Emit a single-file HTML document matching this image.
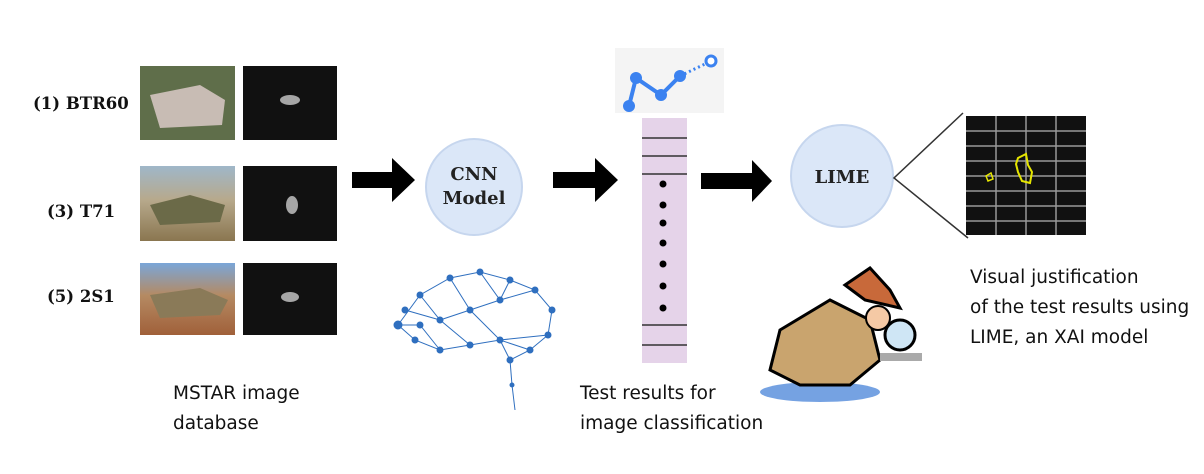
<!DOCTYPE html>
<html><head><style>
body{margin:0;background:#fff;width:1204px;height:474px;overflow:hidden;position:relative;font-family:"DejaVu Sans","Liberation Sans",sans-serif}
.a{position:absolute}
.lbl{font-family:"DejaVu Serif","Liberation Serif",serif;font-weight:bold;font-size:16.5px;color:#111}
.t{font-size:18.5px;color:#111;line-height:30px}
</style></head><body>
<div class="a lbl" style="left:33px;top:94px">(1) BTR60</div>
<div class="a lbl" style="left:47px;top:202px">(3) T71</div>
<div class="a lbl" style="left:47px;top:287px">(5) 2S1</div>
<svg class="a" style="left:0;top:0" width="1204" height="474">
<defs>
<linearGradient id="sk" x1="0" y1="0" x2="0" y2="1"><stop offset="0" stop-color="#9fb7c9"/><stop offset="0.45" stop-color="#b7a98c"/><stop offset="1" stop-color="#8a7650"/></linearGradient>
<linearGradient id="sk2" x1="0" y1="0" x2="0" y2="1"><stop offset="0" stop-color="#7aa6d8"/><stop offset="0.45" stop-color="#b58a62"/><stop offset="1" stop-color="#a0603a"/></linearGradient>
</defs>
<rect x="140" y="66" width="95" height="74" fill="#5f6e4a"/>
<path d="M150 95 L200 85 L225 100 L222 125 L160 128 Z" fill="#c8bcb4"/>
<rect x="140" y="166" width="95" height="75" fill="url(#sk)"/>
<path d="M150 205 L190 195 L225 205 L220 222 L160 225 Z" fill="#6b6a48"/>
<rect x="140" y="263" width="95" height="72" fill="url(#sk2)"/>
<path d="M150 295 L200 288 L228 300 L220 315 L160 318 Z" fill="#8a7a58"/>
<rect x="243" y="66" width="94" height="74" fill="#111"/><ellipse cx="290" cy="100" rx="10" ry="5" fill="#ccc" opacity=".8"/>
<rect x="243" y="166" width="94" height="75" fill="#111"/><ellipse cx="292" cy="205" rx="6" ry="9" fill="#ccc" opacity=".8"/>
<rect x="243" y="263" width="94" height="72" fill="#111"/><ellipse cx="290" cy="297" rx="9" ry="5" fill="#ccc" opacity=".8"/>
<g fill="#000">
<path d="M352 172 H392 V158 L415 180 L392 202 V188 H352Z"/>
<path d="M553 172 H595 V158 L618 180 L595 202 V188 H553Z"/>
<path d="M701 173 H752 V160 L772 181 L752 202 V189 H701Z"/>
</g>
<circle cx="474" cy="187" r="48" fill="#dbe7f8" stroke="#c6d6ee" stroke-width="2"/>
<text x="474" y="180" text-anchor="middle" font-family="DejaVu Serif,Liberation Serif,serif" font-weight="bold" font-size="18" fill="#222">CNN</text>
<text x="474" y="204" text-anchor="middle" font-family="DejaVu Serif,Liberation Serif,serif" font-weight="bold" font-size="18" fill="#222">Model</text>
<g stroke="#2f6fbf" stroke-width="1" fill="#2f6fbf">
<path fill="none" d="M398 325 L420 295 L450 278 L480 272 L510 280 L535 290 L552 310 L548 335 L530 350 L510 360 L512 385 L515 410 M398 325 L415 340 L440 350 L470 345 L500 340 L530 350 M420 295 L440 320 L470 310 L500 300 L535 290 M440 320 L470 345 M470 310 L500 340 L548 335 M450 278 L470 310 M480 272 L500 300 L510 280 M440 350 L420 325 L398 325 M500 340 L510 360 M405 310 L440 320"/>
<circle cx="398" cy="325" r="4"/><circle cx="420" cy="295" r="3"/><circle cx="450" cy="278" r="3"/><circle cx="480" cy="272" r="3"/><circle cx="510" cy="280" r="3"/><circle cx="535" cy="290" r="3"/><circle cx="552" cy="310" r="3"/><circle cx="548" cy="335" r="3"/><circle cx="530" cy="350" r="3"/><circle cx="510" cy="360" r="3"/><circle cx="512" cy="385" r="2"/><circle cx="415" cy="340" r="3"/><circle cx="440" cy="350" r="3"/><circle cx="470" cy="345" r="3"/><circle cx="500" cy="340" r="3"/><circle cx="440" cy="320" r="3"/><circle cx="470" cy="310" r="3"/><circle cx="500" cy="300" r="3"/><circle cx="405" cy="310" r="3"/><circle cx="420" cy="325" r="3"/>
</g>
<rect x="615" y="48" width="109" height="65" fill="#f4f4f4"/>
<polyline points="629,106 636,78 661,95 680,76" fill="none" stroke="#3b82f0" stroke-width="4"/>
<line x1="680" y1="76" x2="705" y2="64" stroke="#3b82f0" stroke-width="3" stroke-dasharray="2,3"/>
<g fill="#3b82f0"><circle cx="629" cy="106" r="6"/><circle cx="636" cy="78" r="6"/><circle cx="661" cy="95" r="6"/><circle cx="680" cy="76" r="6"/></g>
<circle cx="711" cy="61" r="5" fill="#fff" stroke="#3b82f0" stroke-width="3"/>
<rect x="642" y="118" width="45" height="245" fill="#e5d3e9"/>
<g stroke="#333" stroke-width="1.5"><line x1="642" y1="138" x2="687" y2="138"/><line x1="642" y1="156" x2="687" y2="156"/><line x1="642" y1="174" x2="687" y2="174"/><line x1="642" y1="325" x2="687" y2="325"/><line x1="642" y1="345" x2="687" y2="345"/></g>
<g fill="#000"><circle cx="663" cy="184" r="3.5"/><circle cx="663" cy="205" r="3.5"/><circle cx="663" cy="223" r="3.5"/><circle cx="663" cy="243" r="3.5"/><circle cx="663" cy="264" r="3.5"/><circle cx="663" cy="286" r="3.5"/><circle cx="663" cy="308" r="3.5"/></g>
<circle cx="842" cy="176" r="51" fill="#dbe7f8" stroke="#c6d6ee" stroke-width="2"/>
<text x="842" y="183" text-anchor="middle" font-family="DejaVu Serif,Liberation Serif,serif" font-weight="bold" font-size="18" fill="#222">LIME</text>
<polyline points="963,113 894,178 968,238" fill="none" stroke="#333" stroke-width="1.5"/>
<rect x="966" y="116" width="120" height="119" fill="#111"/>
<g stroke="#999" stroke-width="1.5">
<line x1="996" y1="116" x2="996" y2="235"/><line x1="1026" y1="116" x2="1026" y2="235"/><line x1="1056" y1="116" x2="1056" y2="235"/>
<line x1="966" y1="131" x2="1086" y2="131"/><line x1="966" y1="146" x2="1086" y2="146"/><line x1="966" y1="161" x2="1086" y2="161"/><line x1="966" y1="176" x2="1086" y2="176"/><line x1="966" y1="191" x2="1086" y2="191"/><line x1="966" y1="206" x2="1086" y2="206"/><line x1="966" y1="221" x2="1086" y2="221"/>
</g>
<path d="M1018 158 L1026 154 L1028 165 L1032 172 L1030 183 L1022 181 L1018 172 L1016 164Z" fill="none" stroke="#e6e600" stroke-width="2"/>
<path d="M986 176 L991 173 L993 179 L988 181Z" fill="none" stroke="#e6e600" stroke-width="1.5"/>
<ellipse cx="820" cy="392" rx="60" ry="10" fill="#3a7bd5" opacity=".7"/>
<path d="M780 330 L830 300 L870 320 L880 360 L850 385 L800 385 L770 370Z" fill="#c9a46e" stroke="#000" stroke-width="3"/>
<path d="M845 285 L870 268 L890 290 L900 308 L865 300Z" fill="#c8693a" stroke="#000" stroke-width="3"/>
<circle cx="878" cy="318" r="12" fill="#f5c9a5" stroke="#000" stroke-width="2"/>
<circle cx="900" cy="335" r="15" fill="#cfe6f5" stroke="#000" stroke-width="3"/>
<rect x="880" y="353" width="42" height="8" fill="#aaa"/>
</svg>
<div class="a t" style="left:173px;top:379px">MSTAR image<br>database</div>
<div class="a t" style="left:580px;top:379px">Test results for<br>image classification</div>
<div class="a t" style="left:970px;top:263px;line-height:30px">Visual justification<br>of the test results using<br>LIME, an XAI model</div>
</body></html>
